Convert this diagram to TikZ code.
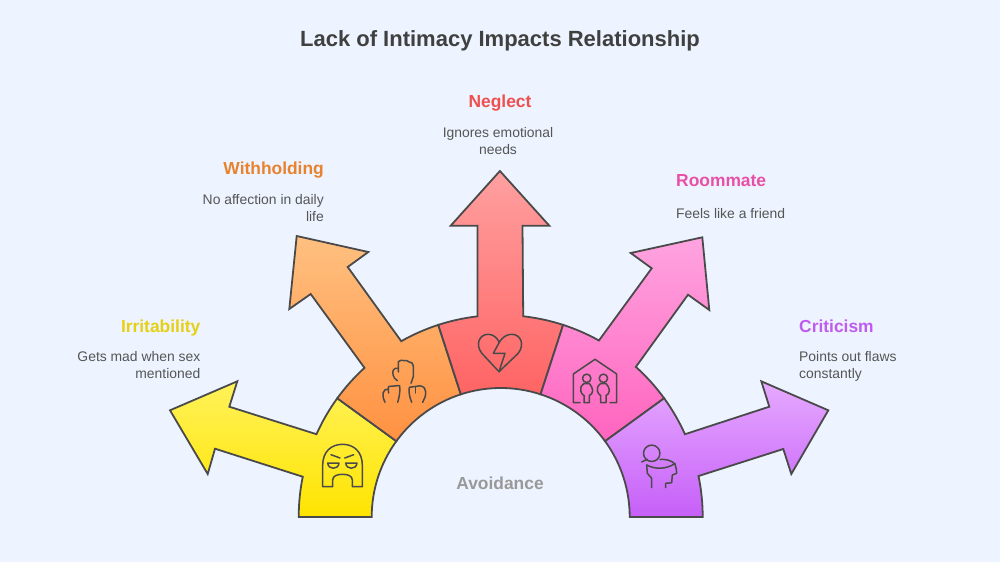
\documentclass[tikz,border=0pt]{standalone}
\usepackage{fontspec}
\setmainfont{Liberation Sans}
\definecolor{bgc}{HTML}{EDF4FF}
\definecolor{edgec}{HTML}{4A4A4A}
\definecolor{desc}{HTML}{555555}
\tikzset{
  petal/.style={draw=edgec,line width=1.8pt,line join=miter},
  ctr/.style={shift={(500.7,517)}},
  icon/.style={draw=edgec,line width=1.5pt,line join=round,line cap=round,fill=none},
  headtxt/.style={font=\fontsize{17.4}{21}\selectfont\bfseries,inner sep=0pt},
  bodytxt/.style={font=\fontsize{13.9}{17}\selectfont,text=desc,inner sep=0pt},
}
\begin{document}
\begin{tikzpicture}[x=1pt,y=1pt,yscale=-1]
\useasboundingbox (0,0) rectangle (1000,562);
\fill[bgc] (0,0) rectangle (1000,562);

% yellow
\path[petal,top color={rgb,255:red,255;green,242;blue,90},bottom color={rgb,255:red,255;green,228;blue,0}]
  ([ctr]-180:202pt) arc[start angle=-180,end angle=-168.5,radius=202pt]
  -- (215,448.7) -- (207.7,474) -- (170,410.3) -- (237.3,381.3) -- (229.3,406.7) -- ([ctr]-155.8:202pt)
  arc[start angle=-155.8,end angle=-144,radius=202pt]
  -- ([ctr]-144:129pt) arc[start angle=-144,end angle=-180,radius=129pt] -- cycle;
% orange
\path[petal,top color={rgb,255:red,255;green,192;blue,128},bottom color={rgb,255:red,255;green,145;blue,65}]
  ([ctr]-144:202pt) arc[start angle=-144,end angle=-132.4,radius=202pt]
  -- (310.7,294) -- (289.3,309) -- (296.7,236) -- (368.3,252) -- (347.7,267) -- ([ctr]-119.5:202pt)
  arc[start angle=-119.5,end angle=-108,radius=202pt]
  -- ([ctr]-108:129pt) arc[start angle=-108,end angle=-144,radius=129pt] -- cycle;
% red
\path[petal,top color={rgb,255:red,255;green,160;blue,160},bottom color={rgb,255:red,255;green,100;blue,100}]
  ([ctr]-108:202pt) arc[start angle=-108,end angle=-96.6,radius=202pt]
  -- (477.5,225.7) -- (450.7,225.7) -- (499.9,171) -- (549.3,225.7) -- (522.5,225.7) -- ([ctr]-83.6:202pt)
  arc[start angle=-83.6,end angle=-72,radius=202pt]
  -- ([ctr]-72:129pt) arc[start angle=-72,end angle=-108,radius=129pt] -- cycle;
% pink
\path[petal,top color={rgb,255:red,255;green,164;blue,224},bottom color={rgb,255:red,255;green,100;blue,190}]
  ([ctr]-72:202pt) arc[start angle=-72,end angle=-60.9,radius=202pt]
  -- (651.7,268.3) -- (630.7,253) -- (702.3,237.3) -- (709.3,310) -- (688,294.7) -- ([ctr]-48:202pt)
  arc[start angle=-48,end angle=-36,radius=202pt]
  -- ([ctr]-36:129pt) arc[start angle=-36,end angle=-72,radius=129pt] -- cycle;
% purple
\path[petal,top color={rgb,255:red,230;green,170;blue,255},bottom color={rgb,255:red,198;green,95;blue,248}]
  ([ctr]-36:202pt) arc[start angle=-36,end angle=-24.2,radius=202pt]
  -- (769.3,406.7) -- (761.3,381.3) -- (828.3,410.3) -- (791.3,474) -- (783.3,449) -- ([ctr]-11.7:202pt)
  arc[start angle=-11.7,end angle=0,radius=202pt]
  -- ([ctr]0:129pt) arc[start angle=0,end angle=-36,radius=129pt] -- cycle;

% angry face
\draw[icon] (322.7,486.7) -- (322.7,465) .. controls (322.7,452) and (331,444.3) .. (342.5,444.3)
  .. controls (354,444.3) and (362.3,452) .. (362.3,465) -- (362.3,486.7) -- (352.3,486.7) -- (352.3,480)
  .. controls (352.3,476) and (348,474.3) .. (342.5,474.3) .. controls (337,474.3) and (332.7,476) .. (332.7,480)
  -- (332.7,486.7) -- cycle;
\draw[icon] (327.7,463) -- (339,463) .. controls (338.5,470) and (328.2,470) .. (327.7,463) -- cycle;
\draw[icon] (345.7,463) -- (357,463) .. controls (356.5,470) and (346.2,470) .. (345.7,463) -- cycle;
\draw[icon] (331,454.7) -- (340,458);
\draw[icon] (353.7,454.7) -- (344.7,458);
% fists
\draw[icon] (397.3,380.7) .. controls (393,378) and (392,373) .. (393.3,370) .. controls (394,368.5) and (396,368) .. (398.3,368.3)
  -- (398.3,361.7) .. controls (400,360) and (402,360) .. (403.3,360.5) .. controls (406,360) and (408,361) .. (409.3,362)
  .. controls (411.5,362) and (413.3,363.5) .. (413.3,366) -- (413.3,376.7) -- (411,383.3);
\draw[icon] (398.3,368.3) -- (398.5,372);
\draw[icon] (385,402.3) .. controls (383,398) and (382.5,395) .. (383,393) .. controls (383.5,390) and (386,389) .. (388.3,389)
  -- (388.6,386.5) -- (399.5,385.5) .. controls (400.5,390) and (399.5,396) .. (397.7,402.3);
\draw[icon] (388.3,389) -- (388.6,393);
\draw[icon] (411.7,402.3) .. controls (409.5,397) and (408.5,392) .. (409.3,387.3) -- (420,385.8)
  .. controls (424,386.5) and (426,389) .. (425.7,392) .. controls (425.7,396) and (424.5,399) .. (422.7,402.3);
\draw[icon] (415.5,387) -- (415.5,393);
% broken heart
\draw[icon] (499,371.7) -- (482,353.5) .. controls (475,345) and (479,334.3) .. (488.3,334.3)
  .. controls (493,334.3) and (497,337.5) .. (499.3,342.3) .. controls (502,337.5) and (506.5,334.3) .. (511.7,334.3)
  .. controls (521,334.3) and (525,345) .. (518,353.5) -- cycle;
\draw[icon] (499.3,342.3) -- (493.3,353.3) -- (505,353.3) -- (499,371.7);
% house
\draw[icon] (580,402.7) -- (573.3,402.7) -- (573.3,374) -- (595,359.3) -- (616.7,374) -- (616.7,402.7) -- (610,402.7);
\draw[icon] (586.7,378.3) circle[radius=4.2pt];
\draw[icon] (603.4,378.3) circle[radius=4.2pt];
\draw[icon] (584,383.5) .. controls (581,386) and (580,388) .. (580.7,391) .. controls (581,393.5) and (583,395) .. (584,395.5)
  -- (584,402.7) -- (589.3,402.7) -- (589.3,395.5) .. controls (591,395) and (592.7,393) .. (592.7,390.5) .. controls (592.7,388) and (591,385.5) .. (589.3,383.5) -- cycle;
\draw[icon] (600.7,383.5) .. controls (597.7,386) and (596.7,388) .. (597.4,391) .. controls (597.7,393.5) and (599.7,395) .. (600.7,395.5)
  -- (600.7,402.7) -- (606,402.7) -- (606,395.5) .. controls (607.7,395) and (609.4,393) .. (609.4,390.5) .. controls (609.4,388) and (607.7,385.5) .. (606,383.5) -- cycle;
% head with lens
\draw[icon] (651.7,453.3) circle[radius=8.2pt];
\draw[icon] (647.3,459.3) -- (641.7,462);
\draw[icon] (646.7,465) .. controls (655,469.5) and (666,469.5) .. (675,463.5);
\draw[icon] (660,459.5) .. controls (665,459) and (671,460) .. (675,464) .. controls (676,468) and (676.7,470) .. (676.7,473.3) -- (672.3,475) -- (671.7,482.7) -- (665.7,483.3) -- (665.7,487.7);
\draw[icon] (646.7,465) -- (647.3,473.3) -- (651.7,478.3) -- (651.7,487.7);

% texts
\node[font=\fontsize{22}{27}\selectfont\bfseries,text={rgb,255:red,64;green,64;blue,64},inner sep=0pt] (title) at (500,40.5) {Lack of Intimacy Impacts Relationship};
\node[headtxt,text={rgb,255:red,230;green,208;blue,20},anchor=east] (h1) at (200.5,327.5) {Irritability};
\node[bodytxt,anchor=north east,align=right] (d1) at (200.5,351) {Gets mad when sex\\mentioned};
\node[headtxt,text={rgb,255:red,232;green,130;blue,46},anchor=east] (h2) at (324,170.5) {Withholding};
\node[bodytxt,anchor=north east,align=right] (d2) at (324,194) {No affection in daily\\life};
\node[headtxt,text={rgb,255:red,238;green,80;blue,80}] (h3) at (500,103.5) {Neglect};
\node[bodytxt,anchor=north,align=center] (d3) at (498,127) {Ignores emotional\\needs};
\node[headtxt,text={rgb,255:red,232;green,80;blue,168},anchor=west] (h4) at (676,180.5) {Roommate};
\node[bodytxt,anchor=west] (d4) at (676,213.5) {Feels like a friend};
\node[headtxt,text={rgb,255:red,190;green,92;blue,240},anchor=west] (h5) at (799,326.5) {Criticism};
\node[bodytxt,anchor=north west,align=left] (d5) at (799,351) {Points out flaws\\constantly};
\node[headtxt,text={rgb,255:red,153;green,153;blue,153}] (av) at (500,483.5) {Avoidance};
\end{tikzpicture}
\end{document}
